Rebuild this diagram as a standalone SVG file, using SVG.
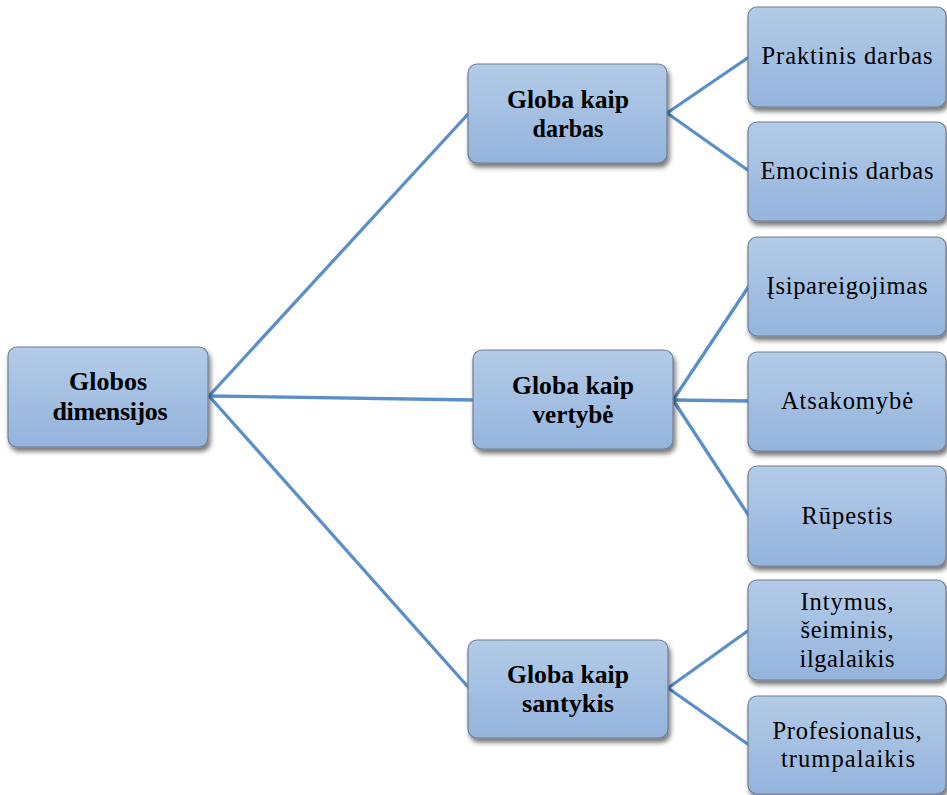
<svg xmlns="http://www.w3.org/2000/svg" width="947" height="795" viewBox="0 0 947 795">
<defs>
<linearGradient id="g" x1="0" y1="0" x2="0" y2="1">
<stop offset="0" stop-color="#b3cbe7"/>
<stop offset="1" stop-color="#94b4dd"/>
</linearGradient>
<filter id="sh" x="-10%" y="-10%" width="125%" height="130%">
<feGaussianBlur in="SourceAlpha" stdDeviation="2.5"/>
<feOffset dx="2" dy="4" result="b"/>
<feComponentTransfer><feFuncA type="linear" slope="0.55"/></feComponentTransfer>
<feMerge><feMergeNode/><feMergeNode in="SourceGraphic"/></feMerge>
</filter>
</defs>
<style>
.box{fill:url(#g);stroke:#6f7f92;stroke-width:1.2;filter:url(#sh)}
.b{font-family:"Liberation Serif","Times New Roman",serif;font-weight:bold;font-size:26px;text-anchor:middle;fill:#000}
.r{font-family:"Liberation Serif","Times New Roman",serif;font-size:24.5px;text-anchor:middle;fill:#000}
.c{fill:none;stroke:#5b8fc8;stroke-width:3.3}
</style>
<g id="connectors" class="c">
<line x1="209" y1="396" x2="469" y2="113"/>
<line x1="209" y1="396" x2="474" y2="400"/>
<line x1="209" y1="396" x2="469" y2="688"/>
<line x1="667" y1="113" x2="749" y2="57"/>
<line x1="667" y1="113" x2="749" y2="171"/>
<line x1="673" y1="400" x2="749" y2="286"/>
<line x1="673" y1="400" x2="749" y2="401"/>
<line x1="673" y1="400" x2="749" y2="516"/>
<line x1="668" y1="688" x2="749" y2="630"/>
<line x1="668" y1="688" x2="749" y2="745"/>
</g>
<g id="root">
<rect class="box" x="8" y="347" width="200" height="100" rx="9"/>
<text class="b" x="108" y="390" textLength="78" lengthAdjust="spacingAndGlyphs">Globos</text>
<text class="b" x="110" y="420" textLength="115" lengthAdjust="spacing">dimensijos</text>
</g>
<g id="darbas">
<rect class="box" x="468" y="64" width="199" height="99" rx="9"/>
<text class="b" x="568" y="108" textLength="122" lengthAdjust="spacingAndGlyphs">Globa kaip</text>
<text class="b" x="568" y="137" textLength="71" lengthAdjust="spacingAndGlyphs">darbas</text>
</g>
<g id="vertybe">
<rect class="box" x="473" y="350" width="200" height="99" rx="9"/>
<text class="b" x="573" y="394" textLength="122" lengthAdjust="spacingAndGlyphs">Globa kaip</text>
<text class="b" x="573" y="423" textLength="81" lengthAdjust="spacingAndGlyphs">vertybė</text>
</g>
<g id="santykis">
<rect class="box" x="468" y="640" width="200" height="98" rx="9"/>
<text class="b" x="568" y="683" textLength="122" lengthAdjust="spacingAndGlyphs">Globa kaip</text>
<text class="b" x="568" y="712" textLength="92" lengthAdjust="spacingAndGlyphs">santykis</text>
</g>
<g id="praktinis">
<rect class="box" x="748" y="7" width="198" height="100" rx="9"/>
<text class="r" x="847" y="64" textLength="171" lengthAdjust="spacing">Praktinis darbas</text>
</g>
<g id="emocinis">
<rect class="box" x="748" y="122" width="198" height="99" rx="9"/>
<text class="r" x="847" y="179" textLength="173" lengthAdjust="spacing">Emocinis darbas</text>
</g>
<g id="isipareigojimas">
<rect class="box" x="748" y="237" width="198" height="99" rx="9"/>
<text class="r" x="847" y="294" textLength="161" lengthAdjust="spacing">Įsipareigojimas</text>
</g>
<g id="atsakomybe">
<rect class="box" x="748" y="352" width="198" height="99" rx="9"/>
<text class="r" x="847" y="409" textLength="132" lengthAdjust="spacing">Atsakomybė</text>
</g>
<g id="rupestis">
<rect class="box" x="748" y="466" width="198" height="100" rx="9"/>
<text class="r" x="847" y="524" textLength="91" lengthAdjust="spacing">Rūpestis</text>
</g>
<g id="intymus">
<rect class="box" x="748" y="580" width="198" height="100" rx="9"/>
<text class="r" x="847" y="610" textLength="93" lengthAdjust="spacing">Intymus,</text>
<text class="r" x="847" y="638" textLength="93" lengthAdjust="spacing">šeiminis,</text>
<text class="r" x="847" y="667" textLength="95" lengthAdjust="spacing">ilgalaikis</text>
</g>
<g id="profesionalus">
<rect class="box" x="748" y="696" width="198" height="98" rx="9"/>
<text class="r" x="847" y="739" textLength="149" lengthAdjust="spacing">Profesionalus,</text>
<text class="r" x="848" y="767" textLength="134" lengthAdjust="spacing">trumpalaikis</text>
</g>
</svg>
